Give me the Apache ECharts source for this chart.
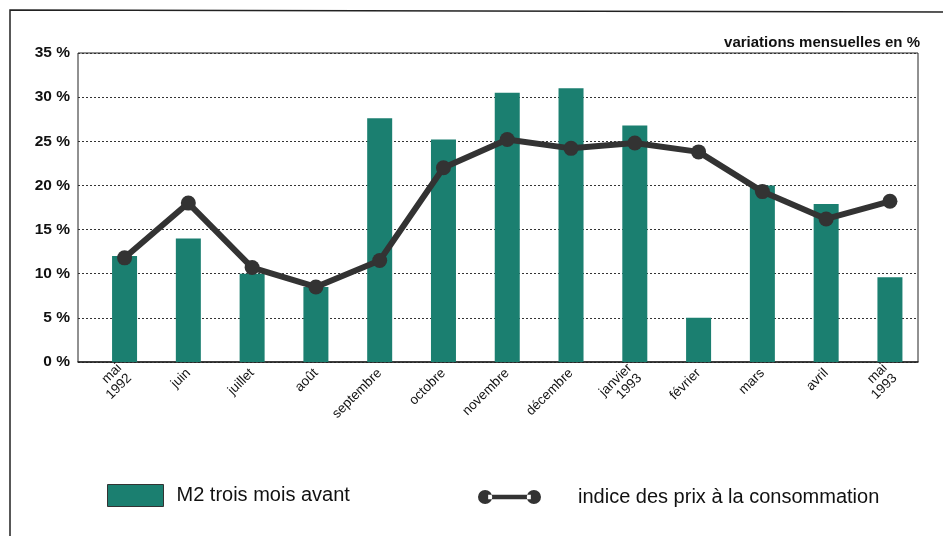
<!DOCTYPE html>
<html>
<head>
<meta charset="utf-8">
<script src="https://cdn.jsdelivr.net/npm/echarts@6/dist/echarts.min.js"></script>
<style>
  html, body { margin: 0; padding: 0; background: #fff; }
  #chart { width: 943px; height: 536px; }
</style>
</head>
<body>
<div id="chart"></div>
<script>
// mois, mai 1992 -> mai 1993
const months = ["mai\n1992", "juin", "juillet", "août", "septembre", "octobre", "novembre",
  "décembre", "janvier\n1993", "février", "mars", "avril", "mai\n1993"];
// M2 trois mois avant (barres)
const m2Values = [12, 14, 10, 8.5, 27.6, 25.2, 30.5, 31, 26.8, 5, 20, 17.9, 9.6];
// indice des prix à la consommation (courbe)
const cpiValues = [11.8, 18, 10.7, 8.5, 11.5, 22, 25.2, 24.2, 24.8, 23.8, 19.3, 16.2, 18.2];
const yTicks = [0, 5, 10, 15, 20, 25, 30, 35];

const barName = "M2 trois mois avant";
const lineName = "indice des prix à la consommation";
const font = "'Liberation Sans', Arial, sans-serif";

let chart = echarts.init(document.getElementById("chart"));

let option = {
  animation: false,
  backgroundColor: "#fff",
  grid: {
    left: 78,
    right: 25,
    top: 53,
    bottom: 174,
    show: true,
    borderColor: "#222",
    borderWidth: 1
  },
  xAxis: {
    type: "value",
    min: -0.73,
    max: 12.44,
    splitLine: { show: false },
    axisTick: { show: false },
    axisLine: { show: true, lineStyle: { color: "#222", width: 1.5 } },
    axisLabel: {
      customValues: months.map((m, i) => i),
      formatter: v => months[v],
      rotate: 45,
      margin: 9,
      color: "#111",
      fontFamily: font,
      fontSize: 13.5,
      lineHeight: 14
    }
  },
  yAxis: {
    type: "value",
    min: 0,
    max: 35,
    interval: 5,
    axisLine: { show: false },
    axisTick: { show: false },
    axisLabel: {
      formatter: v => (yTicks.includes(v) ? v + " %" : ""),
      margin: 8,
      color: "#111",
      fontFamily: font,
      fontWeight: "bold",
      fontSize: 15.5
    },
    splitLine: {
      show: true,
      lineStyle: { color: "#333", type: [2, 2], width: 1 }
    }
  },
  legend: [
    {
      data: [barName],
      left: 102,
      top: 479,
      itemWidth: 56,
      itemHeight: 22,
      icon: "rect",
      itemStyle: { borderColor: "#333", borderWidth: 1 },
      textStyle: { fontFamily: font, fontSize: 20, color: "#111", padding: [0, 0, 0, 8] }
    },
    {
      data: [lineName],
      left: 473,
      top: 482,
      itemWidth: 63,
      itemHeight: 16,
      icon: "path://M0,7a7,7 0 1,0 14,0a7,7 0 1,0 -14,0z M48,7a7,7 0 1,0 14,0a7,7 0 1,0 -14,0z M10,4.8h42v4.4h-42z",
      textStyle: { fontFamily: font, fontSize: 20, color: "#111", padding: [0, 0, 0, 32] }
    }
  ],
  graphic: [
    {
      type: "text",
      right: 23,
      top: 35,
      style: {
        text: "variations mensuelles en %",
        fontFamily: font,
        fontWeight: "bold",
        fontSize: 15,
        fill: "#111"
      }
    },
    {
      type: "polyline",
      shape: { points: [[10, 536], [10, 10], [943, 12]] },
      style: { stroke: "#222", lineWidth: 1.5, fill: null }
    }
  ],
  series: [
    {
      name: barName,
      type: "bar",
      barWidth: 25,
      data: m2Values.map((v, i) => [i, v]),
      itemStyle: { color: "#1b7f70" }
    },
    {
      name: lineName,
      type: "line",
      data: cpiValues.map((v, i) => [i, v]),
      symbol: "circle",
      symbolSize: 15,
      z: 5,
      lineStyle: { color: "#333", width: 6 },
      itemStyle: { color: "#333" }
    }
  ]
};

chart.setOption(option);
</script>
</body>
</html>
